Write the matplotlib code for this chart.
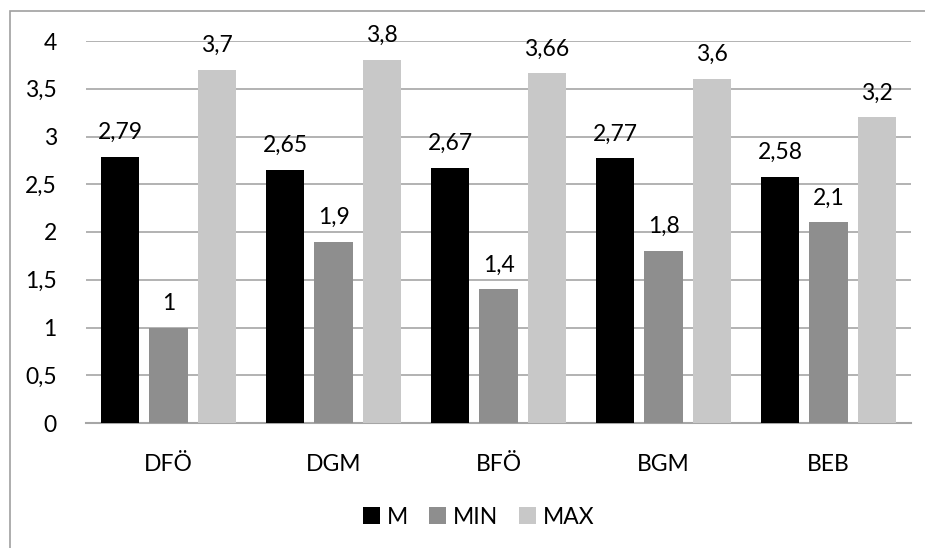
import numpy as np
import matplotlib.pyplot as plt
from matplotlib.patches import Rectangle

# Group labels and series values
categories = ["DFÖ", "DGM", "BFÖ", "BGM", "BEB"]
m_vals = [2.79, 2.65, 2.67, 2.77, 2.58]
min_vals = [1, 1.9, 1.4, 1.8, 2.1]
max_vals = [3.7, 3.8, 3.66, 3.6, 3.2]
series_names = ["M", "MIN", "MAX"]
colors = ["#000000", "#8e8e8e", "#c8c8c8"]

plt.rcParams['font.family'] = ['Lato', 'DejaVu Sans']
FS = 16.5

def fmt(v):
    return ("%g" % v).replace(".", ",")

fig = plt.figure(figsize=(9.25, 5.48), dpi=100)
ax = fig.add_axes([86 / 925, 1 - 423 / 548, 825 / 925, 382 / 548])

x = np.arange(len(categories))
width = 0.236
step = 0.294
for i, (vals, name, c) in enumerate(zip([m_vals, min_vals, max_vals], series_names, colors)):
    pos = x + (i - 1) * step
    bars = ax.bar(pos, vals, width, color=c, label=name, zorder=3)
    for b, v in zip(bars, vals):
        ax.annotate(fmt(v), (b.get_x() + b.get_width() / 2, v),
                    xytext=(0, 10), textcoords="offset points",
                    ha="center", va="bottom", fontsize=FS, zorder=4)

ax.set_xlim(-0.5, len(categories) - 0.5)
ax.set_ylim(0, 4)
yt = np.arange(0, 4.01, 0.5)
ax.set_yticks(yt)
ax.set_yticklabels([fmt(v) for v in yt], fontsize=FS)
ax.set_xticks(x)
ax.set_xticklabels(categories, fontsize=FS)
ax.tick_params(axis="both", length=0)
ax.tick_params(axis="y", pad=21)
ax.tick_params(axis="x", pad=22)
ax.yaxis.grid(True, color="#a6a6a6", linewidth=1.2, zorder=0)
for s in ["top", "right", "left"]:
    ax.spines[s].set_visible(False)
ax.spines["bottom"].set_color("#a6a6a6")
ax.spines["bottom"].set_linewidth(1.5)

leg = fig.legend(loc="center", bbox_to_anchor=(479 / 925, 1 - 517 / 548), ncol=3,
                 frameon=False, fontsize=FS, handlelength=0.75, handleheight=0.75,
                 handletextpad=0.3, columnspacing=0.9)

# outer chart frame
fig.patches.append(Rectangle((10 / 925, -0.1), 1.2, 1 - 11 / 548 + 0.1,
                             transform=fig.transFigure, fill=False,
                             edgecolor="#a0a0a0", linewidth=1.2))

fig.savefig("out.png", dpi=100)
